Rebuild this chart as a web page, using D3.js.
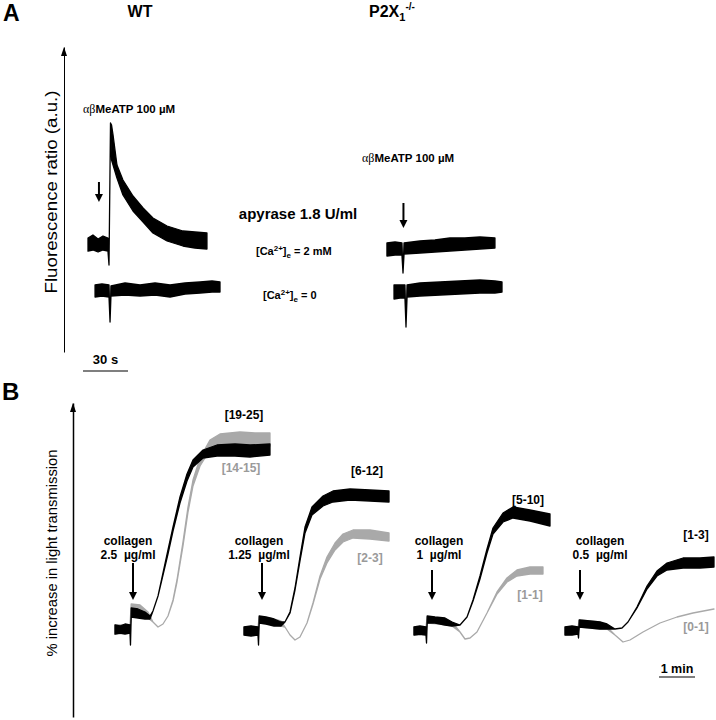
<!DOCTYPE html>
<html><head><meta charset="utf-8">
<script src="https://cdn.jsdelivr.net/npm/d3@7"></script>
<style>
html,body{margin:0;padding:0;background:#fff;}
svg{display:block;font-family:"Liberation Sans",Arial,Helvetica,sans-serif;}
</style></head>
<body><svg id="c" width="716" height="720"></svg>
<script>
// ---------------- Panel A data: [time (s), lower envelope, upper envelope] fluorescence ratio (a.u.)
const aWT_Ca2 = [[16.0,2.02,2.28],[19.3,2.04,2.34],[22.7,2.00,2.26],[26.0,2.04,2.32],[29.3,2.02,2.28],
  [30.0,1.74,1.74],[31.0,4.58,4.58],[31.7,3.84,4.54],[32.7,3.74,4.34],[35.3,3.48,3.74],[39.3,3.14,3.44],
  [46.0,2.82,3.12],[52.7,2.60,2.88],[59.3,2.38,2.68],[68.7,2.22,2.52],[79.3,2.12,2.42],[87.3,2.08,2.40],[95.3,2.06,2.38]];
const aWT_Ca0 = [[20.7,1.10,1.34],[25.3,1.12,1.36],[30.0,1.10,1.34],[30.7,0.60,0.60],[31.3,1.12,1.32],[40.7,1.14,1.38],
  [50.7,1.12,1.34],[60.7,1.14,1.38],[70.7,1.10,1.34],[80.7,1.16,1.38],[90.7,1.18,1.40],[98.7,1.20,1.42],[104.0,1.20,1.40]];
const aKO_Ca2 = [[215.3,1.92,2.18],[220.7,1.94,2.20],[225.3,1.94,2.18],[226.0,1.58,1.58],[226.7,1.96,2.18],[237.3,1.98,2.22],
  [247.3,2.00,2.24],[257.3,2.02,2.28],[267.3,2.04,2.28],[277.3,2.06,2.30],[287.3,2.08,2.28]];
const aKO_Ca0 = [[220.0,1.06,1.34],[224.0,1.08,1.34],[227.3,1.08,1.34],[228.0,0.50,0.50],[228.7,1.10,1.34],[237.3,1.12,1.38],
  [250.7,1.14,1.40],[264.0,1.16,1.42],[277.3,1.18,1.44],[287.3,1.18,1.42],[292.0,1.20,1.40]];
const aAgonistTimes = [23.3, 226.3];   // αβMeATP addition (s)
const aScaleBar = 30;                  // s

// ---------------- Panel B data: [time (s), lower, upper] % increase in light transmission
const bDoses = ["2.5", "1.25", "1", "0.5"];
const bWT_25 = [[70.0,-1.5,3.0],[78.3,-1.0,2.5],[86.7,-1.5,3.5],[95.0,-1.0,3.0],[95.8,-7,-7],[97.0,7.0,11.5],[108.3,6.5,11],
  [120.0,6.0,9.5],[128.3,6.0,7.5],[133.3,10,10],[141.7,17.5,17.5],[150,28,29],[158.3,38.5,40.5],[166.7,50,52],[178.3,64,67],
  [190,75,78.5],[200,82,85.5],[216.7,86.5,90.5],[240,87.5,93],[270,87.5,93.5],[295,87,93],[328.3,88,93.5]];
const bKO_25 = [[70.0,-1.5,3.0],[95.0,-1.0,3.0],[97.0,9,13.5],[111.7,8.5,13],[125,6.5,9.5],[133.3,4.5,4.5],[141.7,2,2],
  [150,3.5,3.5],[158.3,7.5,7.5],[166.7,15,15.5],[173.3,24.5,25.5],[183.3,42.5,44.5],[191.7,59.5,62],[200,72.5,75.5],
  [211.7,82.5,86.5],[228.3,90.5,95.5],[245,92,98.5],[278.3,91.5,99.5],[303.3,92,99],[328.3,92.5,99]];
const bWT_125 = [[285,-2,2],[296.7,-2.5,2.5],[308.3,-2,2],[309.2,-7,-7],[310.3,4,7.5],[321.7,3.5,7],[335,2.5,6],[346.7,2.5,4.5],
  [353.3,4.5,4.5],[361.7,9,9.5],[370,20.5,21.5],[378.3,35,37],[386.7,49,52],[398.3,58,62],[416.7,62.5,67.5],[433.3,64.5,70],
  [461.7,65.5,71],[495,65,70.5],[526.7,64.5,70]];
const bKO_125 = [[285,-2,2],[308.3,-2,2],[310.3,4,7],[328.3,3.5,6.5],[346.7,2.5,5],[353.3,2,2],[361.7,-2,-2],[370,-4.5,-4.5],
  [378.3,-3,-3],[390,4,4],[400,13.5,14],[411.7,26,27.5],[423.3,34,37],[436.7,40.5,44],[450,44.5,48.5],[466.7,46.5,50.5],
  [495,46,50.5],[526.7,45,49]];
const bWT_1 = [[568.3,-2,2],[578.3,-1.5,2.5],[588.3,-2,2],[589.2,-6,-6],[590.3,4,7.5],[603.3,4,7],[620,3,6.5],[631.7,2.5,4.5],
  [645,3,3],[656.7,7,7],[666.7,15,15.5],[678.3,26,27.5],[690,39,41],[700,48.5,51.5],[716.7,54.5,59],[733.3,56.5,62],
  [761.7,55,60.5],[795,52.5,58.5]];
const bKO_1 = [[568.3,-2,2],[588.3,-2,2],[590.3,4,7],[611.7,3.5,6.5],[631.7,2.5,4.5],[645,-0.5,-0.5],[653.3,-4,-4],
  [661.7,-3.5,-3.5],[673.3,-0.5,-0.5],[690,9,9],[706.7,18.5,19.5],[723.3,24.5,26.5],[740,27.5,30.5],[761.7,28.5,32],[783.3,28.5,32]];
const bWT_05 = [[820,-2,2],[831.7,-2,2.5],[841.7,-1.5,2],[842.5,-3.5,-3.5],[843.7,2,5.5],[861.7,1.5,5],[878.3,1,4.5],[890,1,3.5],
  [903.3,1,1],[915,1.5,1.5],[925,4.5,4.5],[940,11.5,12],[956.7,21,22.5],[973.3,27.5,30],[990,30.5,34],[1016.7,31.5,36.5],
  [1045,31.5,36.5],[1068.3,32,37]];
const bKO_05 = [[820,-2,2],[841.7,-1.5,2],[843.7,2,5.5],[878.3,1,4.5],[890,1,2],[903.3,-2,-2],[916.7,-5.5,-5.5],[928.3,-4.5,-4.5],
  [950,-0.5,-0.5],[978.3,4,4],[1006.7,7,7],[1033.3,9,9],[1068.3,11,11]];
const bAdditionTimes = [100, 315, 598.3, 845];
const bWTLabels = ["[19-25]", "[6-12]", "[5-10]", "[1-3]"];
const bKOLabels = ["[14-15]", "[2-3]", "[1-1]", "[0-1]"];
const bScaleBar = 60; // s

// ---------------- layout
const svg = d3.select("#c");
const BLACK = "#000", GRAY = "#a9a9a9", LGRAY = "#9a9a9a";
const xA = d3.scaleLinear().domain([0, 100]).range([64, 214]);
const yA = d3.scaleLinear().domain([0, 6.1]).range([352, 47]);
const xB = d3.scaleLinear().domain([0, 100]).range([73, 133]);
const yB = d3.scaleLinear().domain([-43, 114]).range([717, 403]);

function band(g, data, x, y, color) {
  const area = d3.area().x(d => x(d[0])).y0(d => y(d[1])).y1(d => y(d[2]));
  g.append("path").attr("d", area(data)).attr("fill", color).attr("stroke", color)
    .attr("stroke-width", 1.3).attr("stroke-linejoin", "round");
}
function arrow(g, x, y1, y2) {
  g.append("line").attr("x1", x).attr("x2", x).attr("y1", y1).attr("y2", y2 - 6).attr("stroke", "#000").attr("stroke-width", 2);
  g.append("path").attr("d", `M${x-4},${y2-8}L${x+4},${y2-8}L${x},${y2}Z`).attr("fill", "#000");
}
function yAxis(scale, x, width) {
  const g = svg.append("g").attr("transform", `translate(${x},0)`)
    .call(d3.axisLeft(scale).ticks(0).tickSizeOuter(0));
  g.select(".domain").attr("stroke", "#000").attr("stroke-width", width);
  const top = scale.range()[1];
  g.append("path").attr("d", `M-3,${top+9}L3,${top+9}L0,${top}Z`).attr("fill", "#000");
}
function txt(x, y, s, size, opts = {}) {
  return svg.append("text").attr("x", x).attr("y", y).attr("font-size", size)
    .attr("font-weight", opts.weight || "bold").attr("text-anchor", opts.anchor || "middle")
    .attr("fill", opts.color || "#000").text(s);
}

// ---------- Panel A
txt(3, 21, "A", 23, {anchor: "start"});
txt(140, 17, "WT", 16);
const p2 = txt(369, 17, "P2X", 16, {anchor: "start"});
p2.append("tspan").attr("font-size", 11).attr("dy", 4).text("1");
p2.append("tspan").attr("font-size", 10).attr("dy", -11).text("-/-");

yAxis(yA, 64, 1);
svg.append("text").attr("transform", "translate(57,192) rotate(-90)").attr("text-anchor", "middle")
  .attr("font-size", 17).attr("textLength", 203).attr("lengthAdjust", "spacingAndGlyphs").text("Fluorescence ratio (a.u.)");

const gA = svg.append("g");
band(gA, aWT_Ca2, xA, yA, BLACK);
band(gA, aWT_Ca0, xA, yA, BLACK);
band(gA, aKO_Ca2, xA, yA, BLACK);
band(gA, aKO_Ca0, xA, yA, BLACK);
arrow(gA, xA(aAgonistTimes[0]), 182, 202);
arrow(gA, xA(aAgonistTimes[1]), 203, 228);

function agonist(x, y) {
  const t = txt(x, y, "", 11.5, {anchor: "start"});
  t.append("tspan").attr("font-family", "'Liberation Serif','Times New Roman',serif").attr("font-weight", "normal")
    .attr("font-size", 12).text("αβ");
  t.append("tspan").text("MeATP 100 µM");
}
agonist(83, 113);
agonist(362, 162);
txt(298, 219, "apyrase 1.8 U/ml", 15);
function caLabel(x, y, tail) {
  const t = txt(x, y, "[Ca", 11, {anchor: "start"});
  t.append("tspan").attr("font-size", 8).attr("dy", -4).text("2+");
  t.append("tspan").attr("dy", 4).text("]");
  t.append("tspan").attr("font-size", 8).attr("dy", 3).text("e");
  t.append("tspan").attr("dy", -3).text(tail);
}
caLabel(256, 255, " = 2 mM");
caLabel(263, 299, " = 0");
// scale bar 30 s
const sbA0 = 12.67;
svg.append("line").attr("x1", xA(sbA0)).attr("x2", xA(sbA0 + aScaleBar)).attr("y1", 371).attr("y2", 371)
  .attr("stroke", "#000").attr("stroke-width", 1.2);
txt((xA(sbA0) + xA(sbA0 + aScaleBar)) / 2, 364, "30 s", 13);

// ---------- Panel B
txt(2, 400, "B", 24, {anchor: "start"});
yAxis(yB, 73, 1.5);
svg.append("text").attr("transform", "translate(57,553) rotate(-90)").attr("text-anchor", "middle")
  .attr("font-size", 15).attr("textLength", 207).attr("lengthAdjust", "spacingAndGlyphs").text("% increase in light transmission");

const gB = svg.append("g");
const koSeries = [bKO_25, bKO_125, bKO_1, bKO_05];
const wtSeries = [bWT_25, bWT_125, bWT_1, bWT_05];
koSeries.forEach(s => band(gB, s, xB, yB, GRAY));
wtSeries.forEach(s => band(gB, s, xB, yB, BLACK));

const doseLabelX = [128, 259, 439, 600];
const arrowTop = [563, 563, 570, 570];
bDoses.forEach((d, i) => {
  txt(doseLabelX[i], 545, "collagen", 12);
  txt(doseLabelX[i], 559, d + "\u00a0\u00a0µg/ml", 12);
  arrow(gB, xB(bAdditionTimes[i]), arrowTop[i], 600);
});
const wtLabPos = [[244, 419], [367, 475], [528, 504], [696, 539]];
const koLabPos = [[241, 472], [370, 562], [530, 599], [696, 631]];
bWTLabels.forEach((l, i) => txt(wtLabPos[i][0], wtLabPos[i][1], l, 12));
bKOLabels.forEach((l, i) => txt(koLabPos[i][0], koLabPos[i][1], l, 12, {color: LGRAY}));
// scale bar 1 min
const sbB0 = 976.7;
svg.append("line").attr("x1", xB(sbB0)).attr("x2", xB(sbB0 + bScaleBar)).attr("y1", 677).attr("y2", 677)
  .attr("stroke", "#000").attr("stroke-width", 1.2);
txt((xB(sbB0) + xB(sbB0 + bScaleBar)) / 2, 673, "1 min", 12.5);
</script></body></html>
